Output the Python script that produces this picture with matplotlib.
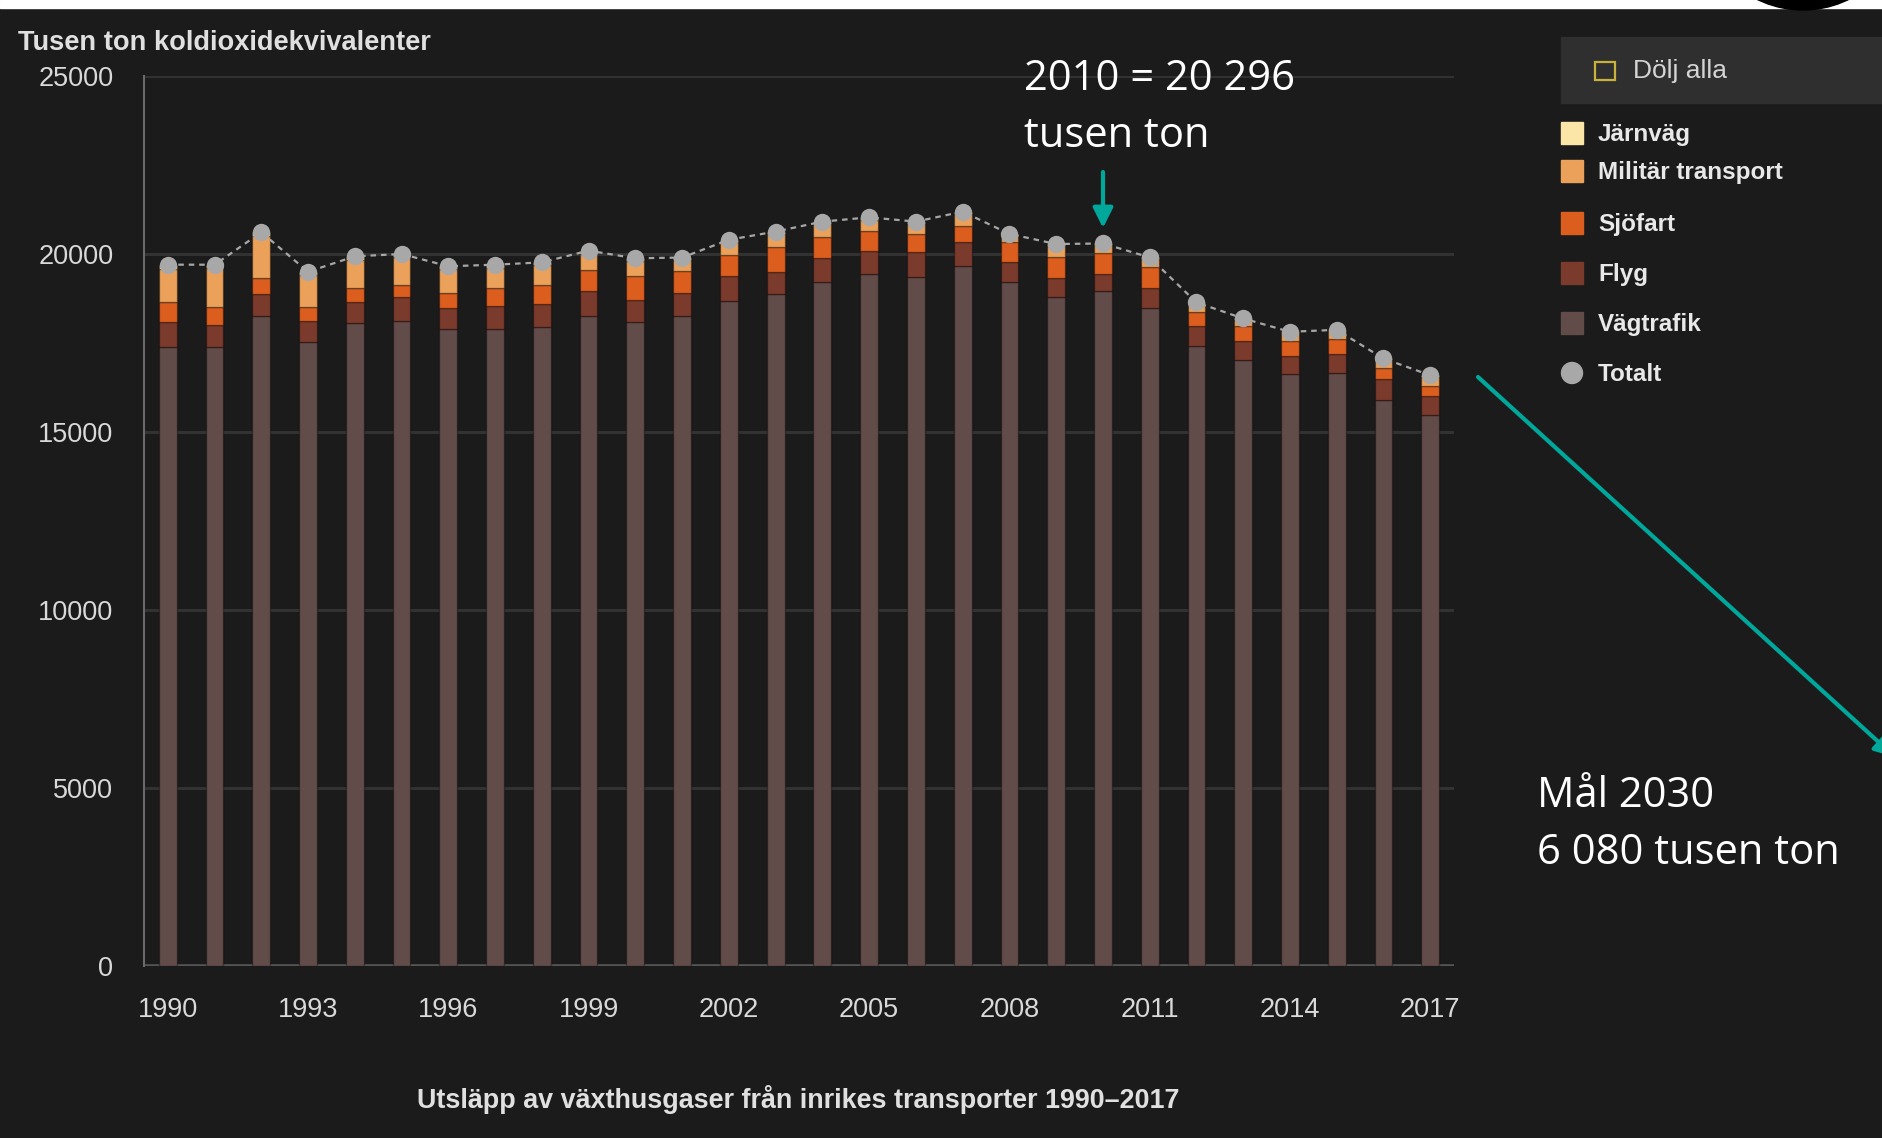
from matplotlib import pyplot as plt
from matplotlib.patches import Rectangle, Circle

years = list(range(1990, 2018))
year_ticks = [1990, 1993, 1996, 1999, 2002, 2005, 2008, 2011, 2014, 2017]

# thousand tonnes CO2-eq
vagtrafik = [17400, 17400, 18250, 17530, 18060, 18120, 17890, 17890, 17955, 18250,
             18080, 18250, 18690, 18875, 19200, 19440, 19360, 19655, 19200, 18780,
             18970, 18475, 17420, 17030, 16625, 16670, 15900, 15470]
flyg = [680, 610, 625, 590, 600, 660, 585, 640, 640, 720,
        635, 645, 680, 610, 700, 655, 685, 675, 580, 535,
        470, 560, 565, 530, 515, 515, 585, 545]
sjofart = [580, 490, 440, 380, 375, 345, 430, 505, 535, 590,
           655, 635, 600, 720, 590, 565, 515, 470, 545, 590,
           590, 590, 395, 405, 420, 440, 300, 280]
militar = [930, 1095, 1190, 900, 805, 780, 660, 575, 550, 450,
           430, 290, 355, 350, 350, 300, 285, 325, 180, 315,
           211, 225, 210, 175, 210, 200, 240, 260]
jarnvag = [110, 105, 105, 100, 95, 95, 90, 90, 85, 85,
           80, 80, 75, 75, 70, 70, 65, 65, 60, 60,
           55, 55, 50, 50, 45, 45, 40, 40]

series_names = ['Vägtrafik', 'Flyg', 'Sjöfart', 'Militär transport', 'Järnväg']
series_colors = ['#614c4a', '#7a3a2c', '#dc5e1f', '#eca15a', '#fbe6a8']

BG = '#1b1b1b'
TEAL = '#00a89c'

plt.rcParams['font.family'] = ['Liberation Sans', 'DejaVu Sans']


def main():
    fig = plt.figure(figsize=(18.82, 11.38), dpi=100, facecolor=BG)
    plot_bars(fig)
    draw_overlay(fig)
    fig.savefig('out.png', dpi=100, facecolor=fig.get_facecolor())


def plot_bars(fig):
    ax = fig.add_axes([144 / 1882, 1 - 966 / 1138, 1310 / 1882, 890 / 1138])
    ax.set_facecolor(BG)

    stacks = [vagtrafik, flyg, sjofart, militar, jarnvag]
    bottom = [0] * len(years)
    for vals, name, col in zip(stacks, series_names, series_colors):
        ax.bar(years, vals, width=0.38, bottom=bottom, color=col,
               edgecolor=(0, 0, 0, 0.35), linewidth=1, label=name, zorder=3)
        bottom = [b + v for b, v in zip(bottom, vals)]
    totals = bottom

    ax.plot(years, totals, color='#a6a6a6', lw=1.6, dashes=(2.5, 2.2), zorder=4)
    ax.plot(years, totals, 'o', color='#a8a8a8', markersize=12.5,
            markeredgewidth=0, zorder=5)

    ax.set_xlim(1989.49, 2017.51)
    ax.set_ylim(0, 25000)
    ax.set_yticks([0, 5000, 10000, 15000, 20000, 25000])
    ax.set_xticks(year_ticks)
    ax.set_xticklabels([str(y) for y in year_ticks])
    ax.yaxis.grid(True, color='#323232', lw=2.2, zorder=0)
    ax.set_axisbelow(True)
    ax.axhline(0, color='#555555', lw=2.6, zorder=2)

    for side in ['top', 'right', 'bottom']:
        ax.spines[side].set_visible(False)
    ax.spines['left'].set_color('#6a6a6a')
    ax.spines['left'].set_linewidth(1.5)

    ax.tick_params(axis='y', length=0, pad=22, labelsize=19.5, labelcolor='#d9d9d9')
    ax.tick_params(axis='x', length=0, pad=22, labelsize=19.5, labelcolor='#d9d9d9')


def draw_overlay(fig):
    ov = fig.add_axes([0, 0, 1, 1], zorder=5)
    ov.set_xlim(0, 1882)
    ov.set_ylim(1138, 0)
    ov.axis('off')
    ov.patch.set_alpha(0)

    # white strip and cut-off circle at the very top
    ov.add_patch(Rectangle((0, 0), 1882, 8, color='white'))
    ov.add_patch(Circle((1803, -94), 104, color='black'))

    ov.text(18, 50, 'Tusen ton koldioxidekvivalenter', fontsize=19.6,
            fontweight='bold', color='#e0e0e0', va='baseline')
    ov.text(798, 1100, 'Utsläpp av växthusgaser från inrikes transporter 1990–2017',
            fontsize=19.4, fontweight='bold', color='#e0e0e0', ha='center', va='center')

    # legend
    ov.add_patch(Rectangle((1561, 37), 330, 66, color='#2f2f2f'))
    ov.add_patch(Rectangle((1595, 62), 20, 18, fill=False, edgecolor='#c9b23c', lw=1.6))
    ov.text(1633, 71, 'Dölj alla', fontsize=19, color='#d4d4d4', va='center')

    legend_order = [4, 3, 2, 1, 0]
    tops = [122, 160, 212, 262, 312]
    for idx, top in zip(legend_order, tops):
        ov.add_patch(Rectangle((1561, top), 22, 22, color=series_colors[idx]))
        ov.text(1598, top + 12, series_names[idx], fontsize=17.5, fontweight='bold',
                color='#e8e8e8', va='center')
    ov.add_patch(Circle((1572, 373), 10.5, color='#a8a8a8'))
    ov.text(1598, 374, 'Totalt', fontsize=17.5, fontweight='bold',
            color='#e8e8e8', va='center')

    # annotations
    note_font = ['Open Sans', 'DejaVu Sans']
    ov.text(1024, 90, '2010 = 20 296', fontsize=30, color='white',
            family=note_font, va='baseline')
    ov.text(1024, 147, 'tusen ton', fontsize=30, color='white',
            family=note_font, va='baseline')
    ov.text(1537, 807, 'Mål 2030', fontsize=30, color='white',
            family=note_font, va='baseline')
    ov.text(1537, 864, '6 080 tusen ton', fontsize=30, color='white',
            family=note_font, va='baseline')

    arrow = dict(arrowstyle='-|>,head_length=0.6,head_width=0.3', color=TEAL,
                 lw=3, shrinkA=0, shrinkB=0, mutation_scale=20)
    ov.annotate('', xy=(1103, 228), xytext=(1103, 172), arrowprops=arrow)
    ov.annotate('', xy=(1895, 757), xytext=(1478, 377), arrowprops=arrow,
                annotation_clip=False)


if __name__ == '__main__':
    main()
